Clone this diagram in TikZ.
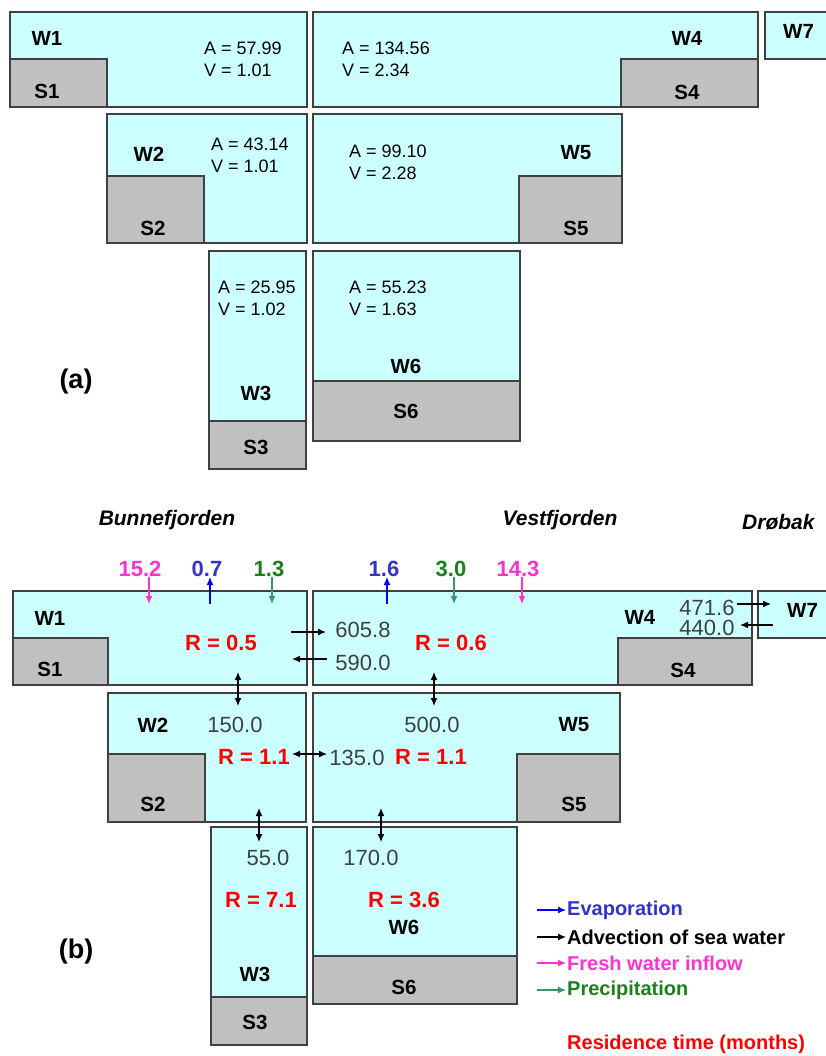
\documentclass[tikz,border=0pt]{standalone}
\usepackage{fontspec}
\setmainfont{Liberation Sans}
\usetikzlibrary{arrows.meta}
\definecolor{water}{HTML}{CCFFFF}
\definecolor{sediment}{HTML}{C0C0C0}
\definecolor{edge}{HTML}{404040}
\definecolor{fluxgray}{HTML}{404040}
\definecolor{evapcol}{HTML}{3333CC}
\definecolor{evaparrow}{HTML}{0000FF}
\definecolor{freshcol}{HTML}{FF33CC}
\definecolor{precipcol}{HTML}{1A801A}
\definecolor{preciparrow}{HTML}{339966}
\tikzset{
  wbox/.style={draw=edge,fill=water,line width=1.4pt},
  sbox/.style={draw=edge,fill=sediment,line width=1.4pt},
  boxlab/.style={font=\fontsize{20.5}{24}\selectfont\bfseries,inner sep=0pt},
  geom/.style={font=\fontsize{18}{22}\selectfont,align=left,anchor=west,inner sep=0pt},
  flux/.style={font=\fontsize{22}{22}\selectfont,text=fluxgray,inner sep=0pt},
  restime/.style={font=\fontsize{22}{22}\selectfont\bfseries,text=red,inner sep=0pt},
  input/.style={font=\fontsize{22}{22}\selectfont\bfseries,inner sep=0pt},
  fjord/.style={font=\fontsize{21}{21}\selectfont\bfseries\itshape,inner sep=0pt},
  panel/.style={font=\fontsize{27}{27}\selectfont\bfseries,inner sep=0pt},
  legend/.style={font=\fontsize{20}{20}\selectfont\bfseries,anchor=west,inner sep=0pt},
  adv/.style={line width=1.2pt},
}
\begin{document}
\begin{tikzpicture}[x=1pt,y=-1pt,>={Latex[length=8pt,width=7pt]}]
\useasboundingbox (0,0) rectangle (826,1056);
% (a) boxes
\draw[wbox] (10,12) rectangle (307,107);
\draw[sbox] (10,59) rectangle (107,107);
\draw[wbox] (313,12) rectangle (758,107);
\draw[sbox] (621,59) rectangle (758,107);
\draw[wbox] (765,12) rectangle (850,59);
\draw[wbox] (107,114) rectangle (307,243);
\draw[sbox] (107,176) rectangle (204,243);
\draw[wbox] (313,114) rectangle (622,243);
\draw[sbox] (519,176) rectangle (622,243);
\draw[wbox] (209,251) rectangle (306,421);
\draw[sbox] (209,421) rectangle (306,469);
\draw[wbox] (313,251) rectangle (520,381);
\draw[sbox] (313,381) rectangle (520,441);
% (a) labels
\node[boxlab] (aw1) at (47,38) {W1};
\node[boxlab] (as1) at (47,91) {S1};
\node[boxlab] (aw2) at (149,154) {W2};
\node[boxlab] (as2) at (153,228) {S2};
\node[boxlab] (aw4) at (687,38) {W4};
\node[boxlab] (as4) at (687,92) {S4};
\node[boxlab,anchor=west] (aw7) at (783,31) {W7};
\node[boxlab] (aw5) at (576,153) {W5};
\node[boxlab] (as5) at (576,228) {S5};
\node[boxlab] (aw3) at (256,393) {W3};
\node[boxlab] (as3) at (256,447) {S3};
\node[boxlab] (aw6) at (406,366) {W6};
\node[boxlab] (as6) at (406,411) {S6};
\node[geom] (g1) at (204,59) {A = 57.99\\V = 1.01};
\node[geom] (g4) at (342,59) {A = 134.56\\V = 2.34};
\node[geom] (g2) at (211,155) {A = 43.14\\V = 1.01};
\node[geom] (g5) at (349,162) {A = 99.10\\V = 2.28};
\node[geom] (g3) at (218,298) {A = 25.95\\V = 1.02};
\node[geom] (g6) at (349,298) {A = 55.23\\V = 1.63};
\node[panel] (pa) at (76,382) {(a)};
% (b) boxes
\draw[wbox] (13,591) rectangle (307,685);
\draw[sbox] (13,638) rectangle (108,685);
\draw[wbox] (313,591) rectangle (752,685);
\draw[sbox] (618,638) rectangle (752,685);
\draw[wbox] (758,591) rectangle (850,638);
\draw[wbox] (108,693) rectangle (306,822);
\draw[sbox] (108,754) rectangle (205,822);
\draw[wbox] (313,693) rectangle (620,822);
\draw[sbox] (517,754) rectangle (620,822);
\draw[wbox] (211,827) rectangle (307,997);
\draw[sbox] (211,997) rectangle (307,1045);
\draw[wbox] (313,827) rectangle (517,956);
\draw[sbox] (313,956) rectangle (517,1004);
% (b) labels
\node[boxlab] (bw1) at (50,618) {W1};
\node[boxlab] (bs1) at (50,669) {S1};
\node[boxlab] (bw4) at (640,617) {W4};
\node[boxlab] (bs4) at (683,670) {S4};
\node[boxlab,anchor=west] (bw7) at (787,610) {W7};
\node[boxlab] (bw2) at (153,725) {W2};
\node[boxlab] (bs2) at (153,804) {S2};
\node[boxlab] (bw5) at (574,725) {W5};
\node[boxlab] (bs5) at (574,804) {S5};
\node[boxlab] (bw3) at (255,974) {W3};
\node[boxlab] (bs3) at (255,1022) {S3};
\node[boxlab] (bw6) at (404,927) {W6};
\node[boxlab] (bs6) at (404,987) {S6};
\node[fjord] (bunne) at (167,520) {Bunnefjorden};
\node[fjord] (vest) at (560,520) {Vestfjorden};
\node[fjord,anchor=west] (drobak) at (742,522) {Drøbak};
\node[panel] (pb) at (76,952) {(b)};
% inputs at the surface
\node[input,text=freshcol] (fw1) at (140,569) {15.2};
\node[input,text=evapcol] (ev1) at (207,569) {0.7};
\node[input,text=precipcol] (pr1) at (269,569) {1.3};
\node[input,text=evapcol] (ev4) at (384,569) {1.6};
\node[input,text=precipcol] (pr4) at (451,569) {3.0};
\node[input,text=freshcol] (fw4) at (518,569) {14.3};
\coordinate (fw1a) at (149,577); \coordinate (fw1b) at (149,604);
\coordinate (ev1a) at (210,604); \coordinate (ev1b) at (210,577);
\coordinate (pr1a) at (272,577); \coordinate (pr1b) at (272,604);
\coordinate (ev4a) at (387,604); \coordinate (ev4b) at (387,577);
\coordinate (pr4a) at (454,577); \coordinate (pr4b) at (454,604);
\coordinate (fw4a) at (522,577); \coordinate (fw4b) at (522,604);
\draw[->,freshcol,line width=1.2pt] (fw1a)--(fw1b);
\draw[->,evaparrow,line width=1.2pt] (ev1a)--(ev1b);
\draw[->,preciparrow,line width=1.2pt] (pr1a)--(pr1b);
\draw[->,evaparrow,line width=1.2pt] (ev4a)--(ev4b);
\draw[->,preciparrow,line width=1.2pt] (pr4a)--(pr4b);
\draw[->,freshcol,line width=1.2pt] (fw4a)--(fw4b);
% residence times
\node[restime] (r1) at (221,643) {R = 0.5};
\node[restime] (r4) at (451,643) {R = 0.6};
\node[restime] (r2) at (254,757) {R = 1.1};
\node[restime] (r5) at (431,757) {R = 1.1};
\node[restime] (r3) at (261,900) {R = 7.1};
\node[restime] (r6) at (404,900) {R = 3.6};
% advection
\node[flux] (q14) at (363,630) {605.8};
\node[flux] (q41) at (363,663) {590.0};
\node[flux] (q47) at (707,608) {471.6};
\node[flux] (q74) at (707,628) {440.0};
\node[flux] (q12) at (235,725) {150.0};
\node[flux] (q45) at (432,725) {500.0};
\node[flux] (q25) at (357,758) {135.0};
\node[flux] (q23) at (268,858) {55.0};
\node[flux] (q56) at (371,858) {170.0};
\coordinate (a14) at (291,632); \coordinate (b14) at (326,632);
\coordinate (a41) at (327,659); \coordinate (b41) at (292,659);
\coordinate (a47) at (737,604); \coordinate (b47) at (771,604);
\coordinate (a74) at (773,625); \coordinate (b74) at (740,625);
\coordinate (a12) at (238,672); \coordinate (b12) at (238,706);
\coordinate (a45) at (434,672); \coordinate (b45) at (434,706);
\coordinate (a25) at (292,754); \coordinate (b25) at (327,754);
\coordinate (a23) at (259,808); \coordinate (b23) at (259,842);
\coordinate (a56) at (381,808); \coordinate (b56) at (381,842);
\draw[->,adv] (a14)--(b14);
\draw[->,adv] (a41)--(b41);
\draw[->,adv] (a47)--(b47);
\draw[->,adv] (a74)--(b74);
\draw[<->,adv] (a12)--(b12);
\draw[<->,adv] (a45)--(b45);
\draw[<->,adv] (a25)--(b25);
\draw[<->,adv] (a23)--(b23);
\draw[<->,adv] (a56)--(b56);
% legend
\foreach \y/\c/\n in {910/evaparrow/levap,937/black/ladv,963/freshcol/lfresh,990/preciparrow/lprec}{
  \coordinate (\n a) at (537,\y);
  \coordinate (\n b) at (566,\y);
  \draw[->,\c,line width=1.1pt] (\n a)--(\n b);
}
\node[legend,text=evapcol] (levap) at (567,910) {Evaporation};
\node[legend,text=black] (ladv) at (567,937) {Advection of sea water};
\node[legend,text=freshcol] (lfresh) at (567,963) {Fresh water inflow};
\node[legend,text=precipcol] (lprec) at (567,990) {Precipitation};
\node[legend,text=red] (lres) at (567,1044) {Residence time (months)};
\end{tikzpicture}
\end{document}
